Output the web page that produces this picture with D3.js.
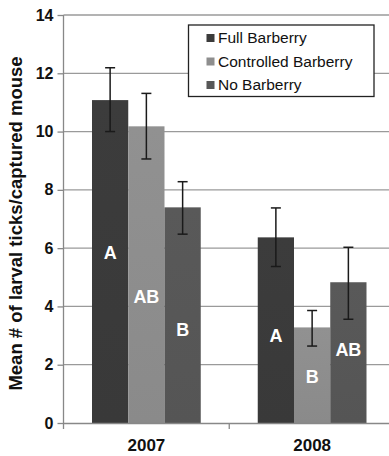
<!DOCTYPE html>
<html>
<head>
<meta charset="utf-8">
<script src="https://cdn.jsdelivr.net/npm/d3@7"></script>
<style>
body { margin: 0; background: #fff; }
text { font-family: "Liberation Sans", Arial, sans-serif; }
</style>
</head>
<body>
<svg id="chart" width="389" height="456"></svg>
<script>
// data
var years = ["2007", "2008"];
var treatments = ["Full Barberry", "Controlled Barberry", "No Barberry"];
var means2007 = [11.08, 10.18, 7.40];
var means2008 = [6.37, 3.28, 4.83];
var errLow2007 = [10.0, 9.06, 6.48];
var errHigh2007 = [12.19, 11.31, 8.28];
var errLow2008 = [5.37, 2.64, 3.56];
var errHigh2008 = [7.38, 3.86, 6.03];
var letters2007 = ["A", "AB", "B"];
var letters2008 = ["A", "B", "AB"];
var yTicks = [0, 2, 4, 6, 8, 10, 12, 14];

// colours per treatment
var colours = ["#3b3b3b", "#8e8e8e", "#575757"];

// letter label heights (value units, centre of letter)
var letterY2007 = [5.85, 4.35, 3.2];
var letterY2008 = [3.0, 1.6, 2.5];

var rows = [];
years.forEach(function(yr, i) {
    var m = i == 0 ? means2007 : means2008;
    var lo = i == 0 ? errLow2007 : errLow2008;
    var hi = i == 0 ? errHigh2007 : errHigh2008;
    var lt = i == 0 ? letters2007 : letters2008;
    var ly = i == 0 ? letterY2007 : letterY2008;
    treatments.forEach(function(t, j) {
        rows.push({year: yr, treatment: t, idx: j, mean: m[j], lo: lo[j], hi: hi[j], letter: lt[j], ly: ly[j]});
    });
});

var svg = d3.select("#chart");
var margin = {left: 63.5, top: 15, right: -6, bottom: 33};
var width = 389 - margin.left - margin.right;
var height = 456 - margin.top - margin.bottom;

var g = svg.append("g").attr("transform", "translate(" + margin.left + "," + margin.top + ")");

var x0 = d3.scaleBand().domain(years).range([0, width]).paddingInner(0).paddingOuter(0);
var x1 = d3.scaleBand().domain(treatments).range([28.5, x0.bandwidth() - 28.5]);
var y = d3.scaleLinear().domain([0, 14]).range([height, 0]);

// gridlines
g.selectAll(".grid").data(yTicks.slice(1)).enter().append("line")
    .attr("x1", 0).attr("x2", width)
    .attr("y1", function(d) { return y(d); }).attr("y2", function(d) { return y(d); })
    .attr("stroke", "#9a9a9a").attr("stroke-width", 1.3);

// gradient-ish bars
var defs = svg.append("defs");
colours.forEach(function(c, i) {
    var grad = defs.append("linearGradient").attr("id", "grad" + i)
        .attr("x1", "0").attr("x2", "0").attr("y1", "0").attr("y2", "1");
    grad.append("stop").attr("offset", "0%").attr("stop-color", d3.color(c).brighter(0.05));
    grad.append("stop").attr("offset", "100%").attr("stop-color", d3.color(c).darker(0.08));
});

g.selectAll(".bar").data(rows).enter().append("rect")
    .attr("x", function(d) { return x0(d.year) + x1(d.treatment); })
    .attr("width", x1.bandwidth())
    .attr("y", function(d) { return y(d.mean); })
    .attr("height", function(d) { return y(0) - y(d.mean); })
    .attr("fill", function(d) { return "url(#grad" + d.idx + ")"; });

// error bars
var eb = g.selectAll(".err").data(rows).enter().append("g")
    .attr("transform", function(d) { return "translate(" + (x0(d.year) + x1(d.treatment) + x1.bandwidth() / 2) + ",0)"; });
eb.append("line").attr("x1", 0).attr("x2", 0)
    .attr("y1", function(d) { return y(d.lo); }).attr("y2", function(d) { return y(d.hi); })
    .attr("stroke", "#1a1a1a").attr("stroke-width", 1.5);
eb.append("line").attr("x1", -5).attr("x2", 5)
    .attr("y1", function(d) { return y(d.lo); }).attr("y2", function(d) { return y(d.lo); })
    .attr("stroke", "#1a1a1a").attr("stroke-width", 1.5);
eb.append("line").attr("x1", -5).attr("x2", 5)
    .attr("y1", function(d) { return y(d.hi); }).attr("y2", function(d) { return y(d.hi); })
    .attr("stroke", "#1a1a1a").attr("stroke-width", 1.5);

// significance letters
g.selectAll(".letter").data(rows).enter().append("text")
    .attr("x", function(d) { return x0(d.year) + x1(d.treatment) + x1.bandwidth() / 2; })
    .attr("y", function(d) { return y(d.ly); })
    .attr("dy", "0.35em")
    .attr("text-anchor", "middle")
    .attr("fill", "#fff")
    .style("font-size", "18px").style("font-weight", "bold")
    .text(function(d) { return d.letter; });

// y axis
var yAxis = g.append("g").call(d3.axisLeft(y).tickValues(yTicks).tickSize(6).tickPadding(4));
yAxis.select(".domain").attr("stroke", "#888").attr("stroke-width", 1.3).attr("d", "M0," + (height + 6) + "V0");
yAxis.selectAll(".tick line").attr("stroke", "#888").attr("stroke-width", 1.3);
yAxis.selectAll(".tick text").style("font-size", "16px").style("font-weight", "bold").attr("fill", "#111")
    .style("font-family", "'Liberation Sans', Arial, sans-serif");

// x axis
var xAxis = g.append("g").attr("transform", "translate(0," + height + ")")
    .call(d3.axisBottom(x0).tickSize(0).tickPadding(16));
xAxis.select(".domain").attr("stroke", "#888").attr("stroke-width", 1.3);
xAxis.selectAll(".tick text").style("font-size", "17px").style("font-weight", "bold").attr("fill", "#111")
    .style("font-family", "'Liberation Sans', Arial, sans-serif");
// category separators
g.selectAll(".sep").data(years.slice(1)).enter().append("line")
    .attr("x1", function(d) { return x0(d); }).attr("x2", function(d) { return x0(d); })
    .attr("y1", height).attr("y2", height + 6)
    .attr("stroke", "#888").attr("stroke-width", 1.3);

// y title
svg.append("text")
    .attr("transform", "translate(16,223.5) rotate(-90)")
    .attr("text-anchor", "middle")
    .attr("dy", "0.35em")
    .style("font-size", "18.5px").style("font-weight", "bold").attr("fill", "#111")
    .text("Mean # of larval ticks/captured mouse");

// legend
var leg = svg.append("g").attr("transform", "translate(188.5,25)");
leg.append("rect").attr("width", 185.5).attr("height", 71.5)
    .attr("fill", "#fff").attr("stroke", "#222").attr("stroke-width", 1.3);
treatments.forEach(function(t, i) {
    leg.append("rect").attr("x", 18).attr("y", 9 + i * 23.5).attr("width", 8).attr("height", 8)
        .attr("fill", colours[i]);
    leg.append("text").attr("x", 29.5).attr("y", 13 + i * 23.5).attr("dy", "0.35em")
        .style("font-size", "15.5px").attr("fill", "#111")
        .text(t);
});
</script>
</body>
</html>
